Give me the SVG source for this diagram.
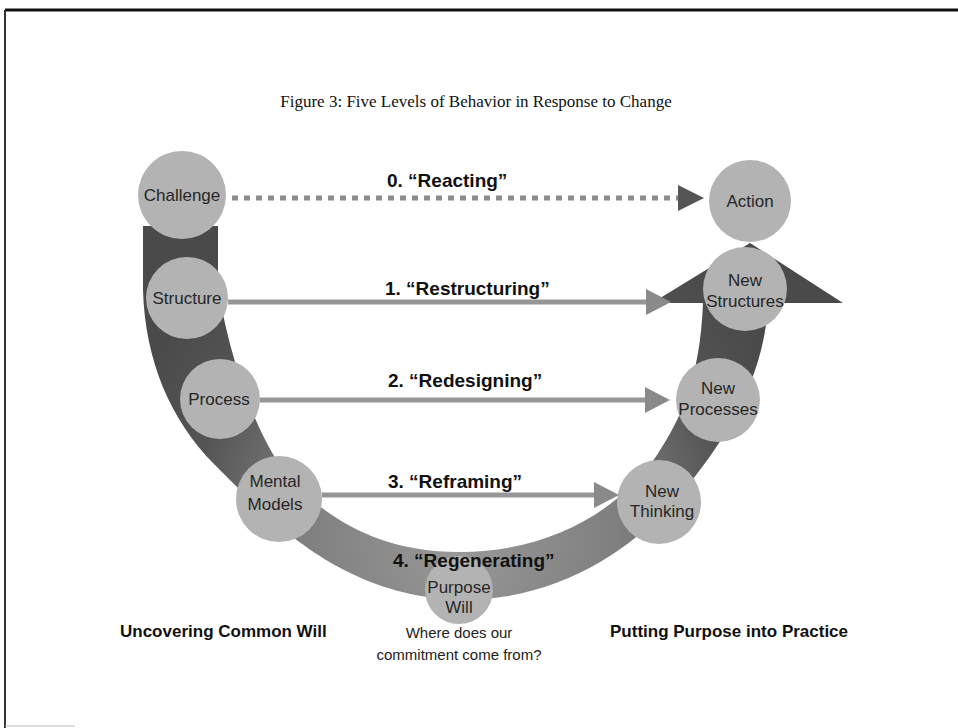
<svg xmlns="http://www.w3.org/2000/svg" width="958" height="728" viewBox="0 0 958 728">
<defs>
<style>
.node circle{fill:#b3b3b3;}
.nl{font-family:"Liberation Sans",Arial,sans-serif;font-size:17px;fill:#262626;text-anchor:middle;}
.lbl{font-family:"Liberation Sans",Arial,sans-serif;font-size:19px;font-weight:bold;fill:#111;}
.cap{font-family:"Liberation Sans",Arial,sans-serif;font-size:17px;font-weight:bold;fill:#111;}
.sub{font-family:"Liberation Sans",Arial,sans-serif;font-size:15px;fill:#222;text-anchor:middle;}
.conn{stroke:#969696;stroke-width:5;fill:none;}
</style>
<radialGradient id="bandGrad" gradientUnits="userSpaceOnUse" cx="460" cy="540" r="360">
<stop offset="0" stop-color="#999"/>
<stop offset="0.45" stop-color="#7e7e7e"/>
<stop offset="0.75" stop-color="#555"/>
<stop offset="1" stop-color="#4a4a4a"/>
</radialGradient>
<marker id="ah" markerUnits="userSpaceOnUse" markerWidth="26" markerHeight="26" refX="0" refY="13" orient="auto">
<path d="M0,0 L25,13 L0,26 Z" fill="#8a8a8a"/>
</marker>
<marker id="ah0" markerUnits="userSpaceOnUse" markerWidth="28" markerHeight="28" refX="0" refY="13" orient="auto">
<path d="M0,0 L26,13 L0,26 Z" fill="#555"/>
</marker>
</defs>
<rect width="958" height="728" fill="#fff"/>
<g id="frame">
<line x1="5" y1="10" x2="958" y2="10" stroke="#111" stroke-width="3"/>
<line x1="5" y1="10" x2="5" y2="728" stroke="#333" stroke-width="2"/>
<line x1="5" y1="726" x2="75" y2="726" stroke="#bbb" stroke-width="1"/>
</g>
<text x="476" y="107" font-family="'Liberation Serif',serif" font-size="17" fill="#111" text-anchor="middle">Figure 3: Five Levels of Behavior in Response to Change</text>
<g id="u-arrow">
<path d="M143,226 L143,290 C145,360 170,420 215,465 C270,520 340,596 460,600 C560,600 630,550 675,500 C720,450 765,380 768,303 L843,303 L750,243 L652,303 L703,303 C700,380 680,420 657,455 C620,510 550,552 460,552 C380,552 330,520 290,480 C260,440 235,380 218,290 L218,226 Z" fill="url(#bandGrad)"/>
</g>
<g id="challenge" class="node"><circle cx="182" cy="195" r="44"/><text class="nl" x="182" y="201" font-size="18">Challenge</text></g>
<g id="structure" class="node"><circle cx="187" cy="298" r="41"/><text class="nl" x="187" y="304">Structure</text></g>
<g id="process" class="node"><circle cx="220" cy="399" r="40"/><text class="nl" x="219" y="405">Process</text></g>
<g id="mental-models" class="node"><circle cx="279" cy="499" r="43"/><text class="nl" x="275" y="487">Mental</text><text class="nl" x="275" y="510">Models</text></g>
<g id="purpose-will" class="node"><circle cx="459" cy="590" r="34"/><text class="nl" x="459" y="593" fill="#444">Purpose</text><text class="nl" x="459" y="613" fill="#444">Will</text></g>
<g id="new-thinking" class="node"><circle cx="659" cy="502" r="42"/><text class="nl" x="662" y="497">New</text><text class="nl" x="662" y="517">Thinking</text></g>
<g id="new-processes" class="node"><circle cx="718" cy="400" r="42"/><text class="nl" x="718" y="394">New</text><text class="nl" x="718" y="415">Processes</text></g>
<g id="new-structures" class="node"><circle cx="745" cy="289" r="42"/><text class="nl" x="745" y="286">New</text><text class="nl" x="745" y="307">Structures</text></g>
<g id="action" class="node"><circle cx="750" cy="201" r="41"/><text class="nl" x="750" y="207">Action</text></g>
<g id="connectors">
<line x1="232" y1="198" x2="678" y2="198" stroke="#8c8c8c" stroke-width="5" stroke-dasharray="6 6" marker-end="url(#ah0)"/>
<line class="conn" x1="228" y1="302" x2="646" y2="302" marker-end="url(#ah)"/>
<line class="conn" x1="260" y1="400" x2="645" y2="400" marker-end="url(#ah)"/>
<line class="conn" x1="322" y1="495" x2="594" y2="495" marker-end="url(#ah)"/>
</g>
<g id="labels">
<text class="lbl" x="387" y="187">0. “Reacting”</text>
<text class="lbl" x="385" y="295">1. “Restructuring”</text>
<text class="lbl" x="388" y="387">2. “Redesigning”</text>
<text class="lbl" x="388" y="488">3. “Reframing”</text>
<text class="lbl" x="393" y="567">4. “Regenerating”</text>
</g>
<text class="cap" x="120" y="637">Uncovering Common Will</text>
<text class="cap" x="610" y="637">Putting Purpose into Practice</text>
<text class="sub" x="459" y="638">Where does our</text>
<text class="sub" x="459" y="660">commitment come from?</text>
</svg>
